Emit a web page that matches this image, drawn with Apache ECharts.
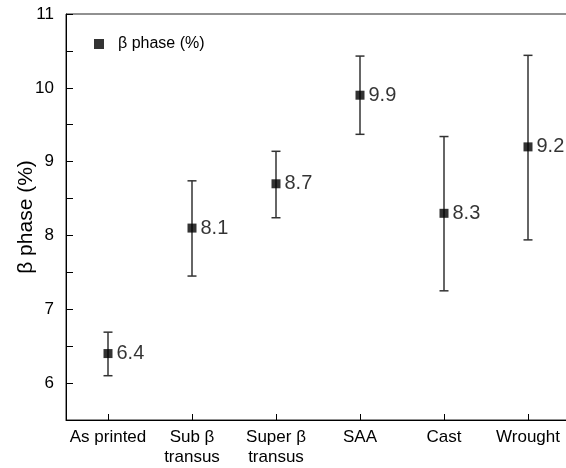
<!DOCTYPE html>
<html>
<head>
<meta charset="utf-8">
<script src="https://cdn.jsdelivr.net/npm/echarts@6/dist/echarts.min.js"></script>
<style>
  html, body { margin: 0; padding: 0; background: #fff; }
  #main { width: 566px; height: 468px; }
</style>
</head>
<body>
<div id="main"></div>
<script>
var categories = ['As printed', 'Sub β\ntransus', 'Super β\ntransus', 'SAA', 'Cast', 'Wrought'];
var betaPhase = [6.4, 8.1, 8.7, 9.9, 8.3, 9.2];
var errLow = [6.1, 7.45, 8.24, 9.37, 7.25, 7.94];
var errHigh = [6.69, 8.74, 9.14, 10.43, 9.34, 10.44];

var font = "'Liberation Sans', Arial, sans-serif";

var errData = [];
for (let i = 0; i < categories.length; i = i + 1) {
    errData.push([i, errLow[i], errHigh[i]]);
}

var myChart = echarts.init(document.getElementById('main'));

var option = {
    animation: false,
    grid: {
        left: 66,
        top: 14,
        width: 504,
        height: 406,
        outerBoundsMode: 'none',
        containLabel: false,
        show: true,
        borderColor: '#222',
        borderWidth: 1
    },
    legend: {
        data: [{ name: 'β phase (%)', icon: 'rect' }],
        left: 89,
        top: 31,
        itemWidth: 10,
        itemHeight: 10,
        textStyle: {
            fontFamily: font,
            fontSize: 16,
            color: '#000',
            padding: [0, 0, 0, 9]
        }
    },
    xAxis: {
        type: 'category',
        data: categories,
        axisLine: { show: true, lineStyle: { color: '#000', width: 1 } },
        axisTick: { show: true, inside: true, alignWithLabel: true, length: 6, lineStyle: { color: '#000' } },
        axisLabel: {
            fontFamily: font,
            fontSize: 17,
            color: '#000',
            lineHeight: 20,
            margin: 7,
            interval: 0
        },
        splitLine: { show: false }
    },
    yAxis: {
        type: 'value',
        min: 5.5,
        max: 11,
        interval: 0.5,
        name: 'β phase (%)',
        nameLocation: 'middle',
        nameGap: 29,
        nameMoveOverlap: false,
        nameTextStyle: { fontFamily: font, fontSize: 21, color: '#000' },
        axisLine: { show: true, lineStyle: { color: '#000', width: 1 } },
        axisTick: { show: true, inside: true, length: 7, lineStyle: { color: '#000' } },
        axisLabel: {
            fontFamily: font,
            fontSize: 17,
            color: '#000',
            margin: 12,
            formatter: function (v) {
                return Number.isInteger(v) ? String(v) : '';
            }
        },
        splitLine: { show: false }
    },
    series: [
        {
            type: 'custom',
            data: errData,
            encode: { x: 0, y: [1, 2] },
            z: 2,
            silent: true,
            renderItem: function (params, api) {
                var lo = api.coord([api.value(0), api.value(1)]);
                var hi = api.coord([api.value(0), api.value(2)]);
                var w = 4.5;
                var style = { stroke: '#333', lineWidth: 1.5 };
                return {
                    type: 'group',
                    children: [
                        { type: 'line', shape: { x1: lo[0], y1: lo[1], x2: hi[0], y2: hi[1] }, style: style },
                        { type: 'line', shape: { x1: lo[0] - w, y1: lo[1], x2: lo[0] + w, y2: lo[1] }, style: style },
                        { type: 'line', shape: { x1: hi[0] - w, y1: hi[1], x2: hi[0] + w, y2: hi[1] }, style: style }
                    ]
                };
            }
        },
        {
            name: 'β phase (%)',
            type: 'scatter',
            data: betaPhase,
            symbol: 'rect',
            symbolSize: 9,
            z: 3,
            itemStyle: { color: '#000' },
            label: {
                show: true,
                position: 'right',
                distance: 4,
                fontFamily: font,
                fontSize: 20,
                color: '#000'
            }
        }
    ]
};

myChart.setOption(option);
</script>
</body>
</html>
